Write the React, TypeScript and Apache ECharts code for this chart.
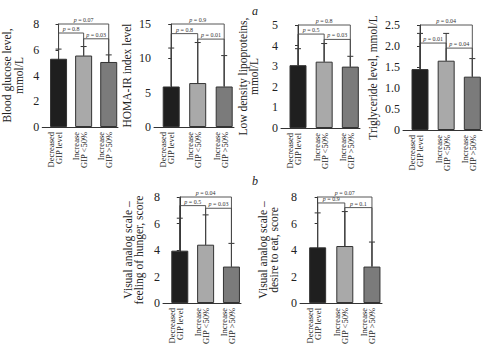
import React, { useEffect, useRef } from "react";
import * as echarts from "echarts";

const FONT = '"Liberation Serif", "Times New Roman", "DejaVu Serif", serif';

const categories = ["Decreased\nGIP level", "Increase\nGIP <50%", "Increase\nGIP >50%"];
const barColors = ["#1f1f1f", "#a9a9a9", "#7b7b7b"];

// a: Blood glucose
const glucoseMeans = [5.3, 5.55, 5.05];
const glucoseErrTop = [6.05, 6.25, 5.6];
const glucoseBrackets: [number, number, number, string][] = [
  [0, 2, 8, "0.07"],
  [0, 1, 7.3, "0.8"],
  [1, 2, 6.85, "0.03"],
];

// HOMA-IR
const homaMeans = [5.9, 6.4, 5.9];
const homaErrTop = [11.5, 12.3, 10.4];
const homaBrackets: [number, number, number, string][] = [
  [0, 2, 15, "0.9"],
  [0, 1, 13.6, "0.8"],
  [1, 2, 12.8, "0.01"],
];

// LDL
const ldlMeans = [3.05, 3.22, 2.98];
const ldlErrTop = [3.85, 4.1, 3.48];
const ldlBrackets: [number, number, number, string][] = [
  [0, 2, 5, "0.8"],
  [0, 1, 4.56, "0.5"],
  [1, 2, 4.3, "0.03"],
];

// Triglycerides
const tgMeans = [1.45, 1.65, 1.27];
const tgErrTop = [2.3, 2.3, 1.7];
const tgBrackets: [number, number, number, string][] = [
  [0, 2, 2.5, "0.04"],
  [0, 1, 2.07, "0.01"],
  [1, 2, 1.95, "0.04"],
];

// b: hunger
const hungerMeans = [3.95, 4.4, 2.75];
const hungerErrTop = [6.4, 6.65, 4.5];
const hungerBrackets: [number, number, number, string][] = [
  [0, 2, 8, "0.04"],
  [0, 1, 7.35, "0.5"],
  [1, 2, 7.15, "0.03"],
];

// b: desire to eat
const desireMeans = [4.2, 4.3, 2.75];
const desireErrTop = [6.8, 6.9, 4.6];
const desireBrackets: [number, number, number, string][] = [
  [0, 2, 8, "0.07"],
  [0, 1, 7.55, "0.9"],
  [1, 2, 7.2, "0.1"],
];

const panels = [
  { name: "Blood glucose level,\nmmol/L", max: 8, interval: 2, dec: 0, means: glucoseMeans, err: glucoseErrTop, brackets: glucoseBrackets },
  { name: "HOMA-IR index level", max: 15, interval: 5, dec: 0, means: homaMeans, err: homaErrTop, brackets: homaBrackets },
  { name: "Low density lipoproteins,\nmmol/L", max: 5, interval: 1, dec: 0, means: ldlMeans, err: ldlErrTop, brackets: ldlBrackets },
  { name: "Triglyceride level, mmol/L", max: 2.5, interval: 0.5, dec: 1, means: tgMeans, err: tgErrTop, brackets: tgBrackets },
  { name: "Visual analog scale –\nfeeling of hunger, score", max: 8, interval: 2, dec: 0, means: hungerMeans, err: hungerErrTop, brackets: hungerBrackets },
  { name: "Visual analog scale –\ndesire to eat, score", max: 8, interval: 2, dec: 0, means: desireMeans, err: desireErrTop, brackets: desireBrackets },
];

const layouts = [
  { left: 39, top: 24, width: 79, height: 103, nameGap: 18 },
  { left: 154, top: 24, width: 80, height: 103, nameGap: 21 },
  { left: 281, top: 25, width: 79, height: 103, nameGap: 21 },
  { left: 403, top: 25, width: 79, height: 105, nameGap: 24 },
  { left: 163, top: 197, width: 78, height: 106, nameGap: 18 },
  { left: 300, top: 197, width: 82, height: 106, nameGap: 20 },
];

export default function App() {
  const ref = useRef<HTMLDivElement>(null);
  useEffect(() => {
    if (!ref.current) return;
    const chart = echarts.init(ref.current, null, { renderer: "svg" });
    const grid: any[] = [];
    const xAxis: any[] = [];
    const yAxis: any[] = [];
    const series: any[] = [];
    panels.forEach((p, k) => {
      const L = layouts[k];
      grid.push({ left: L.left, top: L.top, width: L.width, height: L.height, containLabel: false });
      xAxis.push({
        type: "category",
        gridIndex: k,
        data: categories,
        axisLine: { show: true, lineStyle: { color: "#333", width: 1 } },
        axisTick: { show: false },
        axisLabel: { rotate: 90, fontSize: 8.5, lineHeight: 8, margin: 5, color: "#222", fontFamily: FONT, interval: 0 },
      });
      xAxis.push({ type: "value", gridIndex: k, min: -0.65, max: 2.37, show: false });
      yAxis.push({
        type: "value",
        gridIndex: k,
        min: 0,
        max: p.max,
        interval: p.interval,
        name: p.name,
        nameLocation: "middle",
        nameGap: L.nameGap,
        nameRotate: 90,
        nameTextStyle: { fontSize: 11.5, lineHeight: 11.5, color: "#222", fontFamily: FONT },
        axisLine: { show: true, lineStyle: { color: "#333", width: 1 } },
        axisTick: { show: true, length: 3, lineStyle: { color: "#333" } },
        axisLabel: {
          fontSize: 12,
          margin: 3,
          color: "#222",
          fontFamily: FONT,
          formatter: (v: number) => (v === 0 ? "0" : v.toFixed(p.dec)),
        },
        splitLine: { show: false },
      });
      const xi = 2 * k + 1;
      series.push({
        type: "bar",
        xAxisIndex: xi,
        yAxisIndex: k,
        barWidth: 17,
        data: p.means.map((m, i) => ({
          value: [i, m],
          itemStyle: { color: barColors[i], borderColor: "#333", borderWidth: 1 },
        })),
      });
      series.push({
        type: "custom",
        xAxisIndex: xi,
        yAxisIndex: k,
        clip: false,
        encode: { x: 0, y: [1, 2] },
        data: p.means.map((m, i) => [i, m, p.err[i]]),
        renderItem: (params: any, api: any) => {
          const i = api.value(0);
          const a = api.coord([i, api.value(1)]);
          const b = api.coord([i, api.value(2)]);
          return {
            type: "group",
            children: [
              { type: "line", shape: { x1: a[0], y1: a[1], x2: b[0], y2: b[1] }, style: { stroke: "#333", lineWidth: 1 } },
              { type: "line", shape: { x1: b[0] - 3, y1: b[1], x2: b[0] + 3, y2: b[1] }, style: { stroke: "#333", lineWidth: 1 } },
            ],
          };
        },
      });
      series.push({
        type: "custom",
        xAxisIndex: xi,
        yAxisIndex: k,
        clip: false,
        encode: { x: [0, 1], y: 2 },
        data: p.brackets.map((b) => [b[0], b[1], b[2]]),
        renderItem: (params: any, api: any) => {
          const i1 = api.value(0);
          const i2 = api.value(1);
          const y = api.value(2);
          const label = p.brackets[params.dataIndex][3];
          const pA = api.coord([i1, p.means[i1]]);
          const pB = api.coord([i1, y]);
          const pC = api.coord([i2, y]);
          const pD = api.coord([i2, p.means[i2]]);
          return {
            type: "group",
            children: [
              {
                type: "polyline",
                shape: { points: [pA, pB, pC, pD] },
                style: { stroke: "#444", lineWidth: 0.9, fill: "none" },
              },
              {
                type: "text",
                style: {
                  text: "{i|p} = " + label,
                  x: (pB[0] + pC[0]) / 2,
                  y: pB[1] - 1,
                  align: "center",
                  verticalAlign: "bottom",
                  fontSize: 6,
                  fontFamily: FONT,
                  fill: "#333",
                  rich: { i: { fontStyle: "italic", fontSize: 6, fontFamily: FONT, fill: "#333" } },
                },
              },
            ],
          };
        },
      });
    });
    chart.setOption({
      animation: false,
      backgroundColor: "#fff",
      grid,
      xAxis,
      yAxis,
      series,
      graphic: [
        { type: "text", left: 252, top: 5, style: { text: "a", fontSize: 12, fontStyle: "italic", fontFamily: FONT, fill: "#222" } },
        { type: "text", left: 252, top: 175, style: { text: "b", fontSize: 12, fontStyle: "italic", fontFamily: FONT, fill: "#222" } },
      ],
    });
    return () => chart.dispose();
  }, []);
  return <div ref={ref} style={{ position: "fixed", left: 0, top: 0, width: 484, height: 351 }} />;
}
